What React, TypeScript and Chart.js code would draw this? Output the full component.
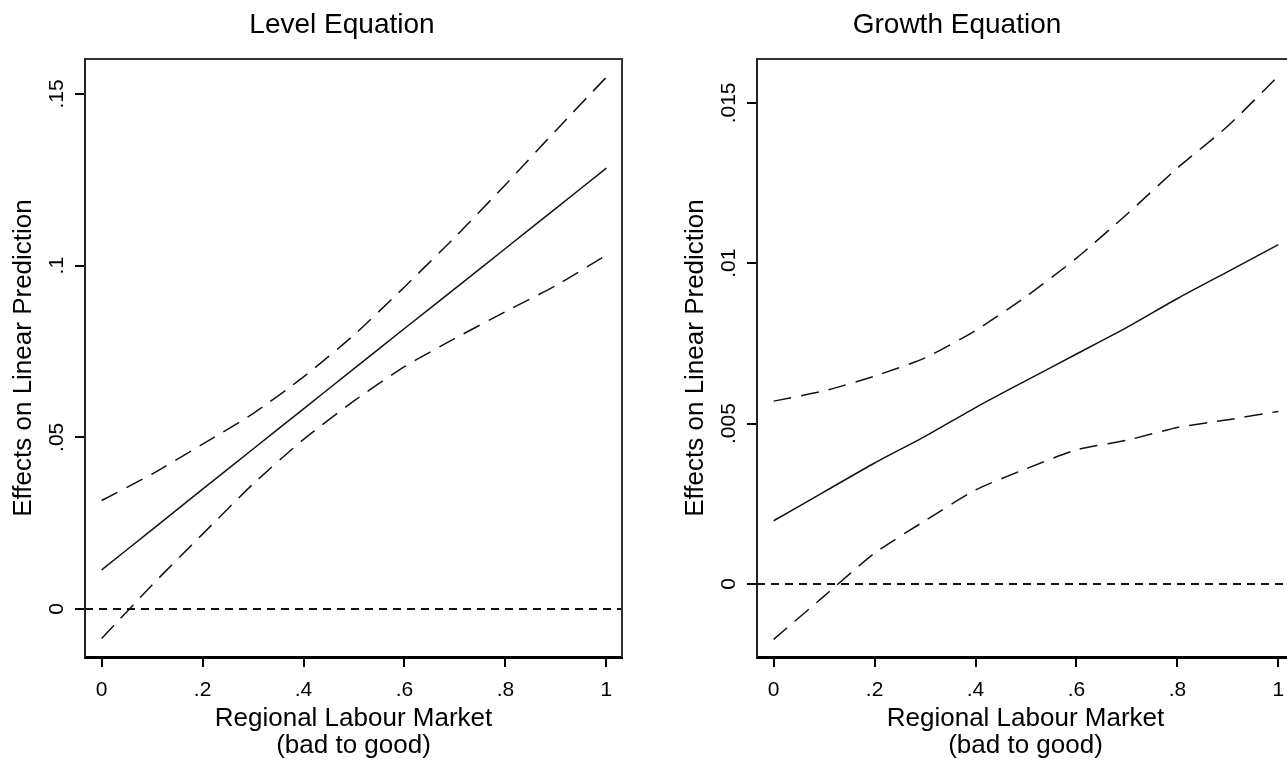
import React, { useEffect, useRef } from "react";
import { Chart, registerables } from "chart.js";

Chart.register(...registerables);

// ---------- data ----------
const xValues = [0, 0.1, 0.2, 0.3, 0.4, 0.5, 0.6, 0.7, 0.8, 0.9, 1];

const levelCenter = [0.0114, 0.0231, 0.0349, 0.0466, 0.0583, 0.07, 0.0817, 0.0933, 0.105, 0.1167, 0.1284];
const levelUpper = [0.0316, 0.0393, 0.048, 0.0569, 0.0676, 0.0798, 0.0938, 0.1083, 0.1236, 0.1394, 0.1549];
const levelLower = [-0.0086, 0.007, 0.0218, 0.0364, 0.0494, 0.0606, 0.0706, 0.0788, 0.0866, 0.0942, 0.1031];

const growthCenter = [0.00197, 0.00287, 0.00377, 0.0046, 0.0055, 0.00634, 0.00717, 0.008, 0.0089, 0.00974, 0.01058];
const growthUpper = [0.0057, 0.00602, 0.00648, 0.00705, 0.0079, 0.00896, 0.01016, 0.01153, 0.01297, 0.01428, 0.01584];
const growthLower = [-0.00173, -0.00038, 0.00096, 0.00197, 0.00293, 0.00359, 0.00418, 0.00448, 0.00488, 0.00512, 0.00538];

const xTicks = [0, 0.2, 0.4, 0.6, 0.8, 1];
const xTickLabels = ["0", ".2", ".4", ".6", ".8", "1"];

const levelYTicks = [0, 0.05, 0.1, 0.15];
const levelYTickLabels = ["0", ".05", ".1", ".15"];
const growthYTicks = [0, 0.005, 0.01, 0.015];
const growthYTickLabels = ["0", ".005", ".01", ".015"];

const panelTitles = ["Level Equation", "Growth Equation"];
const yAxisTitle = "Effects on Linear Prediction";
const xAxisTitle = ["Regional Labour Market", "(bad to good)"];
const referenceValue = 0;

// ---------- styling ----------
const FONT = '"Liberation Sans", Arial, sans-serif';

type PanelProps = {
  left: number;
  titleX: number;
  title: string;
  center: number[];
  upper: number[];
  lower: number[];
  yTicks: number[];
  yTickLabels: string[];
  yMin: number;
  yMax: number;
};

function Panel(props: PanelProps) {
  const ref = useRef<HTMLCanvasElement | null>(null);

  useEffect(() => {
    const canvas = ref.current;
    if (!canvas) return;
    const toPts = (ys: number[]) => ys.map((y, i) => ({ x: xValues[i], y }));

    const framePlugin = {
      id: "frame",
      beforeDatasetsDraw(chart: any) {
        const { ctx, chartArea } = chart;
        const y0 = chart.scales.y.getPixelForValue(referenceValue);
        ctx.save();
        ctx.strokeStyle = "#111";
        ctx.lineWidth = 2;
        ctx.setLineDash([8, 6]);
        ctx.beginPath();
        ctx.moveTo(chartArea.left, y0);
        ctx.lineTo(chartArea.right, y0);
        ctx.stroke();
        ctx.restore();
      },
      afterDraw(chart: any) {
        const { ctx, chartArea } = chart;
        ctx.save();
        ctx.strokeStyle = "#333";
        ctx.lineWidth = 2;
        ctx.beginPath();
        ctx.moveTo(chartArea.left, chartArea.top);
        ctx.lineTo(chartArea.right, chartArea.top);
        ctx.lineTo(chartArea.right, chartArea.bottom);
        ctx.stroke();
        // title
        ctx.fillStyle = "#000";
        ctx.font = `28px ${FONT}`;
        ctx.textAlign = "center";
        ctx.textBaseline = "alphabetic";
        ctx.fillText(props.title, props.titleX, 33);
        // rotated y tick labels
        const ys = chart.scales.y;
        ctx.font = `21px ${FONT}`;
        ctx.textBaseline = "middle";
        props.yTicks.forEach((v, i) => {
          const py = ys.getPixelForValue(v);
          ctx.save();
          ctx.translate(chartArea.left - 28, py);
          ctx.rotate(-Math.PI / 2);
          ctx.fillText(props.yTickLabels[i], 0, 0);
          ctx.restore();
        });
        ctx.restore();
      },
    };

    const lineStyle = (dashed: boolean) => ({
      borderColor: "#111",
      borderWidth: 1.5,
      pointRadius: 0,
      fill: false,
      tension: 0.2,
      borderDash: dashed ? [18, 10] : [],
    });

    const chart = new Chart(canvas, {
      type: "line",
      data: {
        datasets: [
          { label: "upper", data: toPts(props.upper), ...lineStyle(true) },
          { label: "effect", data: toPts(props.center), ...lineStyle(false) },
          { label: "lower", data: toPts(props.lower), ...lineStyle(true) },
        ],
      },
      options: {
        responsive: false,
        animation: false,
        layout: { padding: { top: 59, right: 18, left: 0, bottom: 0 } },
        plugins: {
          legend: { display: false },
          title: { display: false },
          tooltip: { enabled: false },
        },
        scales: {
          x: {
            type: "linear",
            min: -0.033,
            max: 1.031,
            afterBuildTicks: (s: any) => {
              s.ticks = xTicks.map((v) => ({ value: v }));
            },
            afterFit: (s: any) => {
              s.height = 108;
            },
            ticks: {
              color: "#000",
              font: { family: FONT, size: 21 },
              padding: 11,
              maxRotation: 0,
              autoSkip: false,
              callback: (v: any) => {
                const i = xTicks.indexOf(Number(v));
                return i >= 0 ? xTickLabels[i] : "";
              },
            },
            grid: {
              drawOnChartArea: false,
              drawTicks: true,
              tickLength: 10,
              tickColor: "#000",
              tickWidth: 2,
              lineWidth: 2,
            },
            border: { display: true, color: "#000", width: 3 },
            title: {
              display: true,
              text: xAxisTitle,
              color: "#000",
              font: { family: FONT, size: 26, lineHeight: "27px" },
              padding: { top: 0, bottom: 6 },
            },
          },
          y: {
            type: "linear",
            min: props.yMin,
            max: props.yMax,
            afterBuildTicks: (s: any) => {
              s.ticks = props.yTicks.map((v) => ({ value: v }));
            },
            afterFit: (s: any) => {
              s.width = 85;
            },
            ticks: { display: false },
            grid: {
              drawOnChartArea: false,
              drawTicks: true,
              tickLength: 10,
              tickColor: "#000",
              tickWidth: 2,
              lineWidth: 2,
            },
            border: { display: true, color: "#222", width: 2 },
            title: {
              display: true,
              text: yAxisTitle,
              color: "#000",
              font: { family: FONT, size: 26 },
              padding: { top: 8, bottom: 0 },
            },
          },
        },
      },
      plugins: [framePlugin],
    } as any);

    return () => chart.destroy();
  }, []);

  return (
    <div style={{ position: "absolute", left: props.left, top: 0, width: 640, height: 765 }}>
      <canvas ref={ref} width={640} height={765} />
    </div>
  );
}

export default function App() {
  return (
    <div
      style={{
        position: "fixed",
        left: 0,
        top: 0,
        width: 1287,
        height: 765,
        overflow: "hidden",
        background: "#fff",
      }}
    >
      <Panel
        left={0}
        titleX={342}
        title={panelTitles[0]}
        center={levelCenter}
        upper={levelUpper}
        lower={levelLower}
        yTicks={levelYTicks}
        yTickLabels={levelYTickLabels}
        yMin={-0.014}
        yMax={0.1602}
      />
      <Panel
        left={672}
        titleX={285}
        title={panelTitles[1]}
        center={growthCenter}
        upper={growthUpper}
        lower={growthLower}
        yTicks={growthYTicks}
        yTickLabels={growthYTickLabels}
        yMin={-0.00228}
        yMax={0.01637}
      />
    </div>
  );
}
